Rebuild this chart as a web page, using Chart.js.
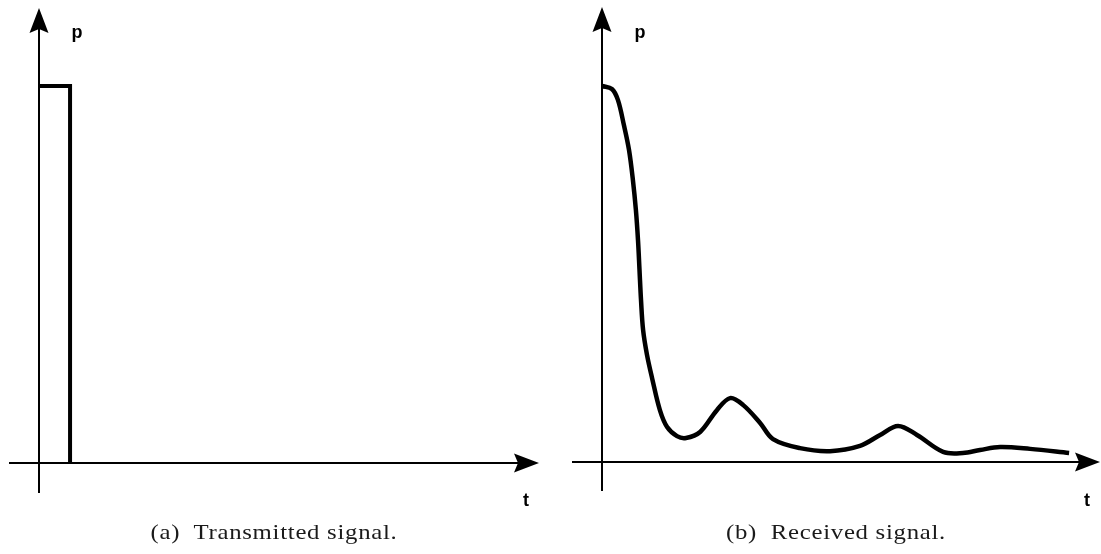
<!DOCTYPE html>
<html>
<head>
<meta charset="utf-8">
<script src="https://cdn.jsdelivr.net/npm/chart.js@4.4.1/dist/chart.umd.min.js"></script>
<style>
  html, body { margin: 0; padding: 0; background: #fff; }
  body { width: 1101px; height: 554px; position: relative; overflow: hidden; }
  .panel { position: absolute; top: 0; height: 554px; }
  .caption {
    position: absolute; top: 520px; width: 400px; text-align: center;
    font-family: 'Liberation Serif', 'DejaVu Serif', serif; font-size: 21px;
    letter-spacing: 0.6px; color: #1a1a1a;
    transform: scaleX(1.18); transform-origin: center;
  }
</style>
</head>
<body>
<div class="panel" style="left:0;width:550px"><canvas id="sent"></canvas></div>
<div class="panel" style="left:551px;width:550px"><canvas id="recv"></canvas></div>
<div class="caption" style="left:74px">(a)&nbsp; Transmitted signal.</div>
<div class="caption" style="left:636px">(b)&nbsp; Received signal.</div>

<script>
// Transmitted pulse (time in pulse widths, amplitude normalised)
const pulseT = [0, 1, 1];
const pulseP = [1, 1, 0];

// Received signal after the channel
const recvT = [0, 0.33, 0.53, 0.73, 0.9, 1.03, 1.13, 1.2, 1.25, 1.3, 1.37, 1.5, 1.67, 1.93, 2.17, 2.5, 2.8, 3.27,
  3.83, 4.27, 4.7, 5.27, 5.7, 6.6, 7.6, 8.6, 9.27, 9.87, 10.5, 11.37, 12.03, 12.6, 13.27, 14.27, 15.57];
const recvP = [1.0, 0.992, 0.963, 0.896, 0.83, 0.75, 0.67, 0.59, 0.511, 0.431, 0.351, 0.285, 0.223, 0.138, 0.093, 0.069, 0.064, 0.08,
  0.138, 0.17, 0.152, 0.104, 0.061, 0.037, 0.029, 0.043, 0.072, 0.096, 0.072, 0.027, 0.024, 0.032, 0.04, 0.035, 0.024];

const INK = '#000';

function arrowHead(ctx, x, y, dir) {
  // dir: 'up' or 'right'; stealth-style head, 25 long, 19 wide
  const len = 25, half = 9.5, notch = 4;
  ctx.beginPath();
  if (dir === 'up') {
    ctx.moveTo(x, y);
    ctx.lineTo(x - half, y + len);
    ctx.lineTo(x, y + len - notch);
    ctx.lineTo(x + half, y + len);
  } else {
    ctx.moveTo(x, y);
    ctx.lineTo(x - len, y - half);
    ctx.lineTo(x - len + notch, y);
    ctx.lineTo(x - len, y + half);
  }
  ctx.closePath();
  ctx.fill();
}

// draws the p/t axes through the origin with arrow heads and labels
const signalAxes = {
  id: 'signalAxes',
  beforeDatasetsDraw(chart) {
    const { ctx, chartArea, scales } = chart;
    const x0 = Math.round(scales.x.getPixelForValue(0));
    const y0 = Math.round(scales.y.getPixelForValue(0));
    ctx.save();
    ctx.strokeStyle = INK;
    ctx.fillStyle = INK;
    ctx.lineWidth = 2;
    ctx.beginPath();
    ctx.moveTo(x0, chartArea.bottom);
    ctx.lineTo(x0, chartArea.top + 20);
    ctx.moveTo(chartArea.left, y0);
    ctx.lineTo(chartArea.right - 20, y0);
    ctx.stroke();
    arrowHead(ctx, x0, chartArea.top, 'up');
    arrowHead(ctx, chartArea.right, y0, 'right');

    ctx.font = 'bold 18px "Liberation Sans", Arial, sans-serif';
    ctx.textAlign = 'center';
    ctx.textBaseline = 'alphabetic';
    ctx.fillText('p', x0 + 38, 38);
    ctx.fillText('t', chartArea.right - 13, 506);
    ctx.restore();
  }
};

function signalChart(id, ts, ps, opts) {
  return new Chart(document.getElementById(id), {
    type: 'line',
    data: {
      datasets: [{
        data: ts.map((t, i) => ({ x: t, y: ps[i] })),
        borderColor: INK,
        borderWidth: opts.width,
        pointRadius: 0,
        tension: opts.tension,
        borderJoinStyle: opts.tension ? 'round' : 'miter',
        borderCapStyle: 'butt',
        fill: false,
        clip: false
      }]
    },
    options: {
      responsive: true,
      maintainAspectRatio: false,
      animation: false,
      events: [],
      layout: { padding: opts.padding },
      plugins: { legend: { display: false }, tooltip: { enabled: false } },
      scales: {
        x: { type: 'linear', display: false, min: opts.xMin, max: opts.xMax },
        y: { type: 'linear', display: false, min: opts.yMin, max: opts.yMax }
      }
    },
    plugins: [signalAxes]
  });
}

signalChart('sent', pulseT, pulseP, {
  width: 4, tension: 0,
  padding: { left: 9, right: 11, top: 8, bottom: 61 },
  xMin: -0.97, xMax: 16.13, yMin: -0.08, yMax: 1.207
});

signalChart('recv', recvT, recvP, {
  width: 4.5, tension: 0.35,
  padding: { left: 21, right: 1, top: 7, bottom: 63 },
  xMin: -1, xMax: 16.6, yMin: -0.077, yMax: 1.21
});
</script>
</body>
</html>
